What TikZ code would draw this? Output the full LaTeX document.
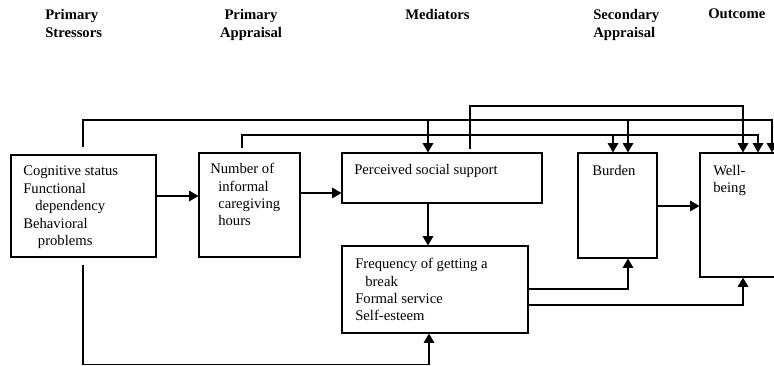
\documentclass[tikz,border=0pt]{standalone}
\usepackage{fontspec}
\setmainfont{Liberation Serif}
\usepackage{tikz}
\usetikzlibrary{arrows.meta}
\usetikzlibrary{calc}
\usetikzlibrary{fit}
\tikzstyle{box} = [draw, line width=0.9pt, inner sep=0pt]
\tikzstyle{flow} = [line width=0.9pt,-{Triangle[length=7pt,width=8pt]}]
\tikzstyle{txt} = [anchor=north west, inner sep=0pt, align=left, font=\fontsize{11}{13.1}\selectfont]
\tikzstyle{head} = [anchor=north west, inner sep=0pt, align=left, font=\fontsize{11}{13.5}\selectfont\bfseries]

\begin{document}
\begin{tikzpicture}[x=0.75pt,y=-0.75pt]
			\useasboundingbox (0,0) rectangle (774,366);
			\clip (0,0) rectangle (774,366);
			% headings
			\node[head] (hStress) at (45,9) {Primary\\Stressors};
			\node[head, align=center, anchor=north] (hAppr) at (251,9) {Primary\\Appraisal};
			\node[head] (hMed) at (405,9) {Mediators};
			\node[head] (hSec) at (593,9) {Secondary\\Appraisal};
			\node[head] (hOut) at (708,9) {Outcome};
			% boxes
			\node[box, fit={(11,155) (156,257)}] (stress) {};
			\node[box, fit={(199,153) (300,257)}] (hours) {};
			\node[box, fit={(342,153) (542,203)}] (support) {};
			\node[box, fit={(342,246) (528,333)}] (freq) {};
			\node[box, fit={(578,153) (657,258)}] (burden) {};
			\node[box, fit={(700,153) (800,277)}] (well) {};
			\node[txt] (tStress) at (23,166) {Cognitive status\\Functional\\\hspace*{9pt}dependency\\Behavioral\\\hspace*{11pt}problems};
			\node[txt] (tHours) at (210,163) {Number of\\\hspace*{6pt}informal\\\hspace*{6pt}caregiving\\\hspace*{6pt}hours};
			\node[txt] (tSupport) at (354,164) {Perceived social support};
			\node[txt] (tFreq) at (355,258) {Frequency of getting a\\\hspace*{7.5pt}break\\Formal service\\Self-esteem};
			\node[txt] (tBurden) at (592,165) {Burden};
			\node[txt] (tWell) at (713,165) {Well-\\being};
			% bus levels above the boxes
			\coordinate (busS) at (0,120);
			\coordinate (busH) at (0,135);
			\coordinate (busP) at (0,106);
			% straight flows
			\draw[flow] (stress.east |- 0,196) -- (hours.west |- 0,196);
			\draw[flow] (hours.east |- 0,193) -- (support.west |- 0,193);
			\draw[flow] (support.south -| 428,0) -- (freq.north -| 428,0);
			\draw[flow] (burden.east |- 0,206) -- (well.west |- 0,206);
			\draw[flow] (freq.east |- 0,289) -| (burden.south -| 628,0);
			\draw[flow] (freq.east |- 0,305) -| (well.south -| 743,0);
			\draw[flow] ($(stress.south -| 83,0)+(0,7)$) |- ($(freq.south -| 429,0)+(0,31)$) -- (freq.south -| 429,0);
			% flows over the top
			\draw[flow] ($(stress.north -| 83,0)+(0,-7)$) |- (busS -| 772,0) -- (well.north -| 772,0);
			\draw[flow] (busS -| 428,0) -- (support.north -| 428,0);
			\draw[flow] (busS -| 628,0) -- (burden.north -| 628,0);
			\draw[flow] ($(hours.north -| 242,0)+(0,-4)$) |- (busH -| 758,0) -- (well.north -| 758,0);
			\draw[flow] (busH -| 613,0) -- (burden.north -| 613,0);
			\draw[flow] ($(support.north -| 470,0)+(0,-3)$) |- (busP -| 743,0) -- (well.north -| 743,0);
			
		\end{tikzpicture}
\end{document}
